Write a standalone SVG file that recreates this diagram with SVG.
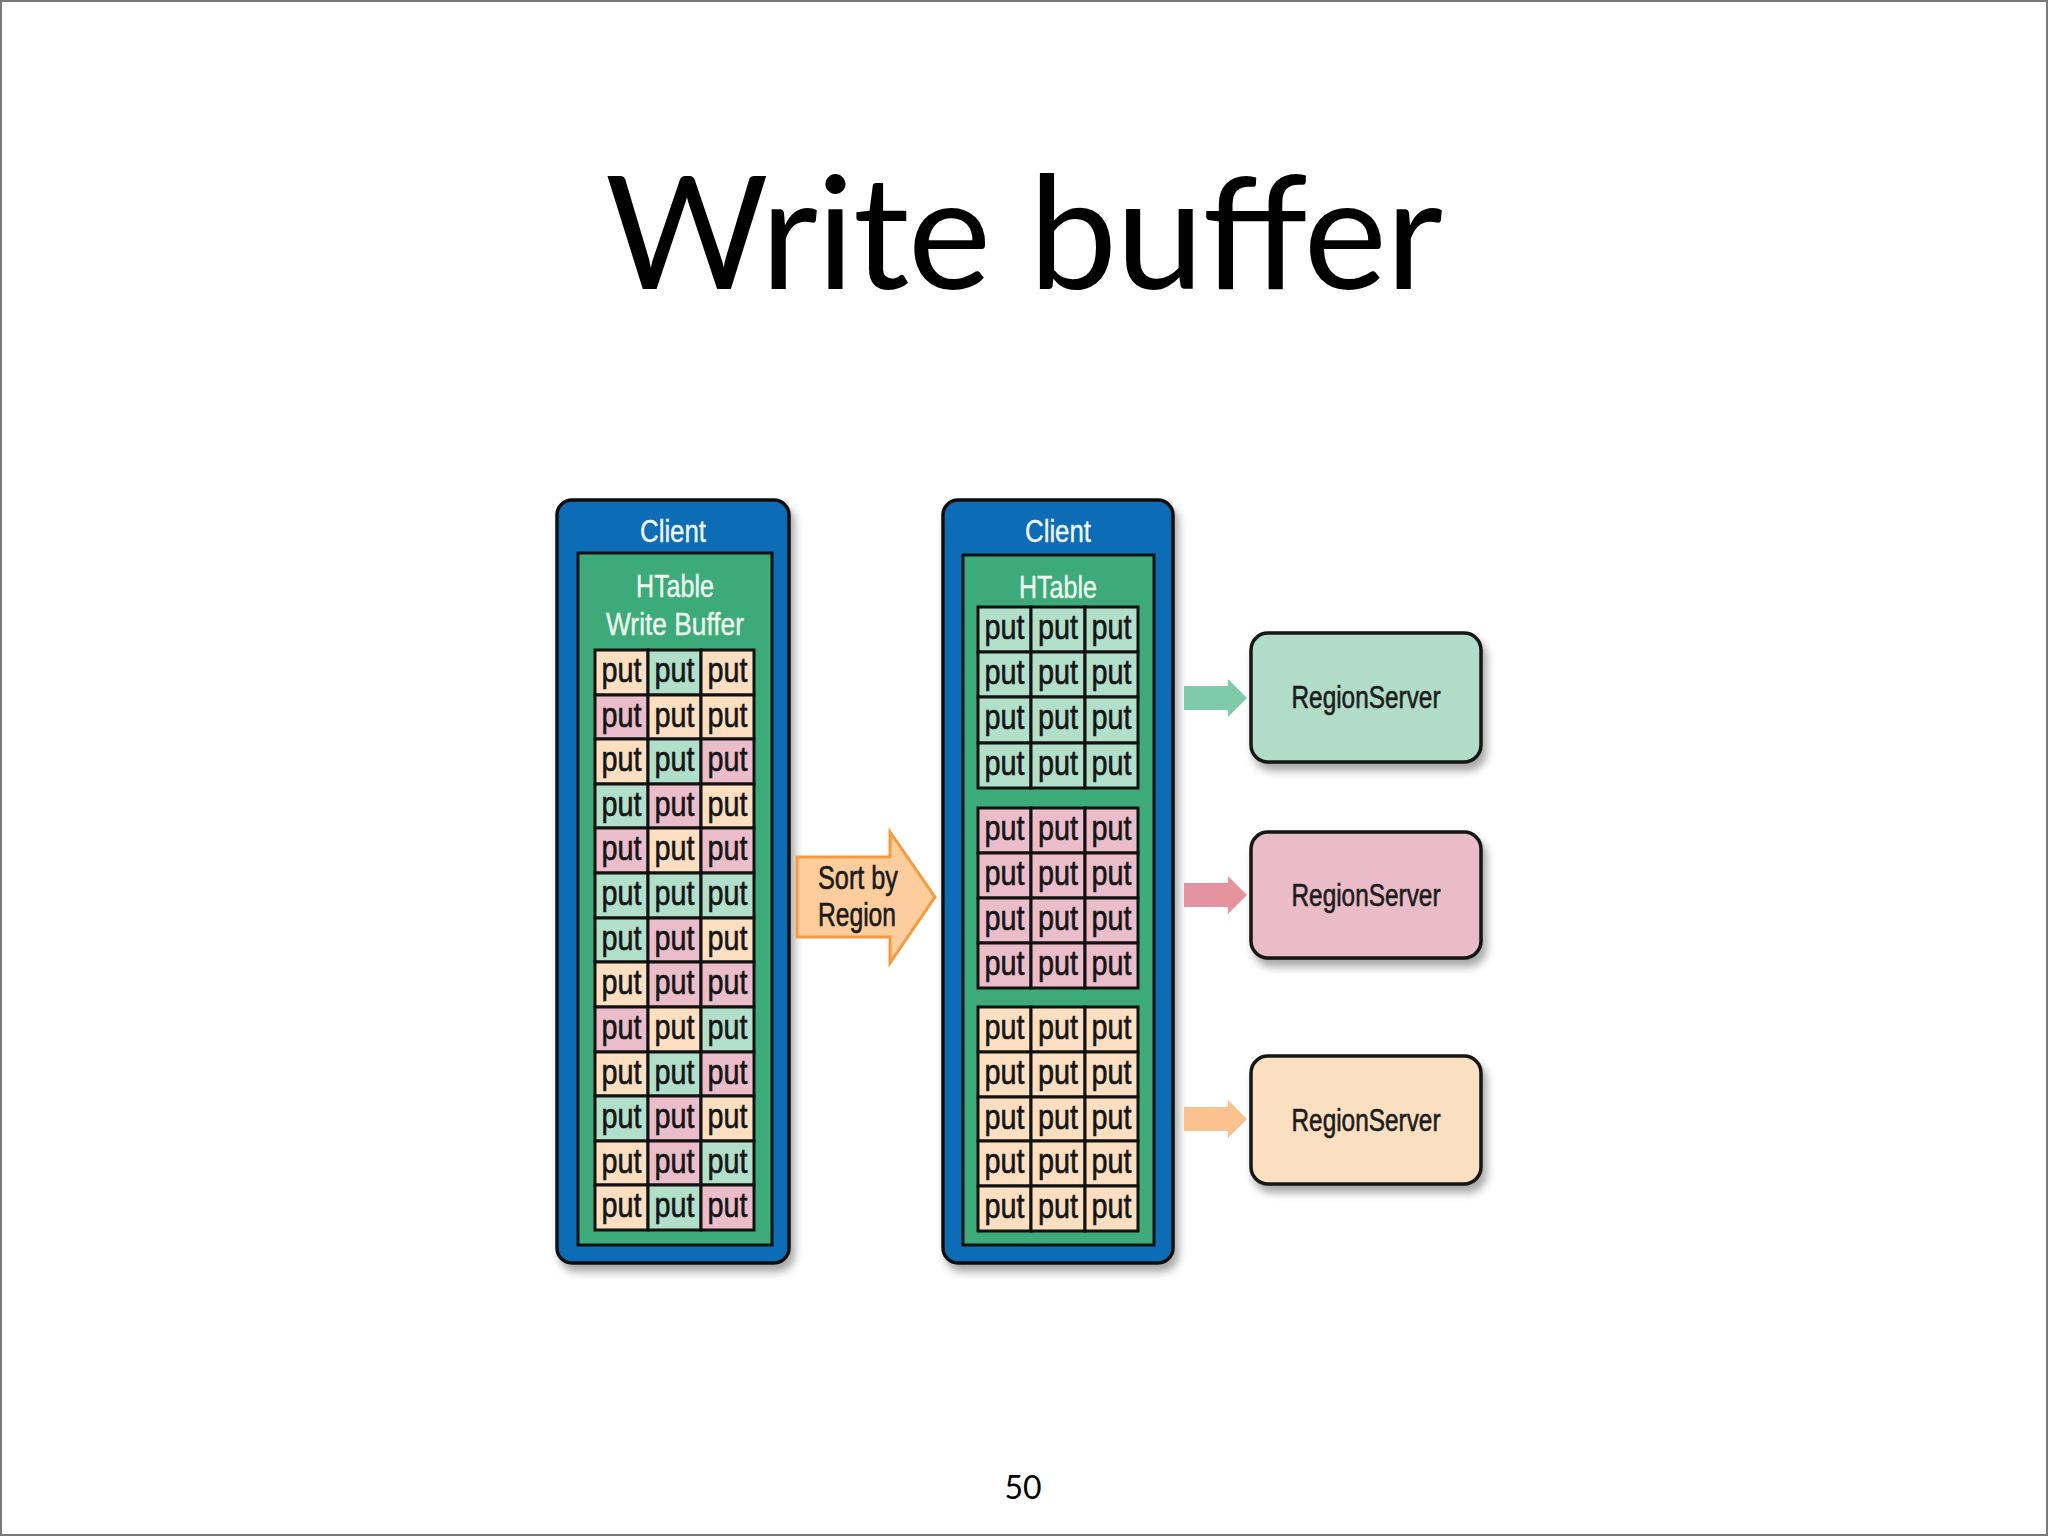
<svg xmlns="http://www.w3.org/2000/svg" width="2048" height="1536" viewBox="0 0 2048 1536">
<defs>
<filter id="sh" x="-10%" y="-10%" width="130%" height="130%"><feDropShadow dx="4" dy="7" stdDeviation="4" flood-color="#000" flood-opacity="0.35"/></filter>
<style>
.t{font-family:"Liberation Sans","DejaVu Sans",sans-serif}
.blue{fill:#0b6cb6;stroke:#111;stroke-width:3.5}
.green{fill:#3dab79;stroke:#111;stroke-width:3}
.c{stroke:#111;stroke-width:3}
.pe{fill:#fcdfc0}.gr{fill:#b2dfca}.pk{fill:#ebbdca}
.put{font-size:35px;fill:#151515;stroke:#151515;stroke-width:0.6;text-anchor:middle}
.wt{font-size:32px;fill:#eef7f0;stroke:#eef7f0;stroke-width:0.4;text-anchor:middle}
.rs{stroke:#151515;stroke-width:3.5}
.rst{font-size:31px;fill:#1c1c1c;stroke:#1c1c1c;stroke-width:0.6;text-anchor:middle}
.dk{fill:#1a1a1a;stroke:#1a1a1a;stroke-width:0.6}
</style>
</defs>
<rect x="0" y="0" width="2048" height="1536" fill="#fff"/>
<rect x="1" y="1" width="2046" height="1534" fill="none" stroke="#7a7a7a" stroke-width="2"/>
<text x="1024" y="289" font-family="Lato,'Open Sans','Liberation Sans',sans-serif" font-size="158" text-anchor="middle" fill="#000" textLength="838">Write buffer</text>
<text x="1023" y="1499" font-family="Lato,'Open Sans','Liberation Sans',sans-serif" font-size="32" text-anchor="middle" fill="#000">50</text>

<g id="client-left">
<rect class="blue" x="557" y="500" width="232" height="763" rx="15" filter="url(#sh)"/>
<text class="t wt" x="673" y="542" textLength="66" lengthAdjust="spacingAndGlyphs">Client</text>
<rect class="green" x="578" y="553" width="194" height="692"/>
<text class="t wt" x="675" y="597" textLength="78" lengthAdjust="spacingAndGlyphs">HTable</text>
<text class="t wt" x="675" y="635" textLength="138" lengthAdjust="spacingAndGlyphs">Write Buffer</text>
<g id="buffer-left">
<rect class="c pe" x="595" y="650" width="53" height="45"/><rect class="c gr" x="648" y="650" width="53" height="45"/><rect class="c pe" x="701" y="650" width="53" height="45"/>
<rect class="c pk" x="595" y="695" width="53" height="44"/><rect class="c pe" x="648" y="695" width="53" height="44"/><rect class="c pe" x="701" y="695" width="53" height="44"/>
<rect class="c pe" x="595" y="739" width="53" height="45"/><rect class="c gr" x="648" y="739" width="53" height="45"/><rect class="c pk" x="701" y="739" width="53" height="45"/>
<rect class="c gr" x="595" y="784" width="53" height="44"/><rect class="c pk" x="648" y="784" width="53" height="44"/><rect class="c pe" x="701" y="784" width="53" height="44"/>
<rect class="c pk" x="595" y="828" width="53" height="45"/><rect class="c pe" x="648" y="828" width="53" height="45"/><rect class="c pk" x="701" y="828" width="53" height="45"/>
<rect class="c gr" x="595" y="873" width="53" height="45"/><rect class="c gr" x="648" y="873" width="53" height="45"/><rect class="c gr" x="701" y="873" width="53" height="45"/>
<rect class="c gr" x="595" y="918" width="53" height="44"/><rect class="c pk" x="648" y="918" width="53" height="44"/><rect class="c pe" x="701" y="918" width="53" height="44"/>
<rect class="c pe" x="595" y="962" width="53" height="45"/><rect class="c pk" x="648" y="962" width="53" height="45"/><rect class="c pk" x="701" y="962" width="53" height="45"/>
<rect class="c pk" x="595" y="1007" width="53" height="45"/><rect class="c pe" x="648" y="1007" width="53" height="45"/><rect class="c gr" x="701" y="1007" width="53" height="45"/>
<rect class="c pe" x="595" y="1052" width="53" height="44"/><rect class="c gr" x="648" y="1052" width="53" height="44"/><rect class="c pk" x="701" y="1052" width="53" height="44"/>
<rect class="c gr" x="595" y="1096" width="53" height="45"/><rect class="c pk" x="648" y="1096" width="53" height="45"/><rect class="c pe" x="701" y="1096" width="53" height="45"/>
<rect class="c pe" x="595" y="1141" width="53" height="44"/><rect class="c pk" x="648" y="1141" width="53" height="44"/><rect class="c gr" x="701" y="1141" width="53" height="44"/>
<rect class="c pe" x="595" y="1185" width="53" height="45"/><rect class="c gr" x="648" y="1185" width="53" height="45"/><rect class="c pk" x="701" y="1185" width="53" height="45"/>
<g class="t put">
<text x="621.5" y="682" textLength="40" lengthAdjust="spacingAndGlyphs">put</text><text x="674.5" y="682" textLength="40" lengthAdjust="spacingAndGlyphs">put</text><text x="727.5" y="682" textLength="40" lengthAdjust="spacingAndGlyphs">put</text>
<text x="621.5" y="727" textLength="40" lengthAdjust="spacingAndGlyphs">put</text><text x="674.5" y="727" textLength="40" lengthAdjust="spacingAndGlyphs">put</text><text x="727.5" y="727" textLength="40" lengthAdjust="spacingAndGlyphs">put</text>
<text x="621.5" y="771" textLength="40" lengthAdjust="spacingAndGlyphs">put</text><text x="674.5" y="771" textLength="40" lengthAdjust="spacingAndGlyphs">put</text><text x="727.5" y="771" textLength="40" lengthAdjust="spacingAndGlyphs">put</text>
<text x="621.5" y="816" textLength="40" lengthAdjust="spacingAndGlyphs">put</text><text x="674.5" y="816" textLength="40" lengthAdjust="spacingAndGlyphs">put</text><text x="727.5" y="816" textLength="40" lengthAdjust="spacingAndGlyphs">put</text>
<text x="621.5" y="860" textLength="40" lengthAdjust="spacingAndGlyphs">put</text><text x="674.5" y="860" textLength="40" lengthAdjust="spacingAndGlyphs">put</text><text x="727.5" y="860" textLength="40" lengthAdjust="spacingAndGlyphs">put</text>
<text x="621.5" y="905" textLength="40" lengthAdjust="spacingAndGlyphs">put</text><text x="674.5" y="905" textLength="40" lengthAdjust="spacingAndGlyphs">put</text><text x="727.5" y="905" textLength="40" lengthAdjust="spacingAndGlyphs">put</text>
<text x="621.5" y="950" textLength="40" lengthAdjust="spacingAndGlyphs">put</text><text x="674.5" y="950" textLength="40" lengthAdjust="spacingAndGlyphs">put</text><text x="727.5" y="950" textLength="40" lengthAdjust="spacingAndGlyphs">put</text>
<text x="621.5" y="994" textLength="40" lengthAdjust="spacingAndGlyphs">put</text><text x="674.5" y="994" textLength="40" lengthAdjust="spacingAndGlyphs">put</text><text x="727.5" y="994" textLength="40" lengthAdjust="spacingAndGlyphs">put</text>
<text x="621.5" y="1039" textLength="40" lengthAdjust="spacingAndGlyphs">put</text><text x="674.5" y="1039" textLength="40" lengthAdjust="spacingAndGlyphs">put</text><text x="727.5" y="1039" textLength="40" lengthAdjust="spacingAndGlyphs">put</text>
<text x="621.5" y="1084" textLength="40" lengthAdjust="spacingAndGlyphs">put</text><text x="674.5" y="1084" textLength="40" lengthAdjust="spacingAndGlyphs">put</text><text x="727.5" y="1084" textLength="40" lengthAdjust="spacingAndGlyphs">put</text>
<text x="621.5" y="1128" textLength="40" lengthAdjust="spacingAndGlyphs">put</text><text x="674.5" y="1128" textLength="40" lengthAdjust="spacingAndGlyphs">put</text><text x="727.5" y="1128" textLength="40" lengthAdjust="spacingAndGlyphs">put</text>
<text x="621.5" y="1173" textLength="40" lengthAdjust="spacingAndGlyphs">put</text><text x="674.5" y="1173" textLength="40" lengthAdjust="spacingAndGlyphs">put</text><text x="727.5" y="1173" textLength="40" lengthAdjust="spacingAndGlyphs">put</text>
<text x="621.5" y="1217" textLength="40" lengthAdjust="spacingAndGlyphs">put</text><text x="674.5" y="1217" textLength="40" lengthAdjust="spacingAndGlyphs">put</text><text x="727.5" y="1217" textLength="40" lengthAdjust="spacingAndGlyphs">put</text>
</g>
</g>
</g>

<g id="client-right">
<rect class="blue" x="943" y="500" width="230" height="763" rx="15" filter="url(#sh)"/>
<text class="t wt" x="1058" y="542" textLength="66" lengthAdjust="spacingAndGlyphs">Client</text>
<rect class="green" x="963" y="555" width="191" height="690"/>
<text class="t wt" x="1058" y="598" textLength="78" lengthAdjust="spacingAndGlyphs">HTable</text>
<g id="region-group-1">
<rect class="c gr" x="978" y="607" width="53" height="45"/><rect class="c gr" x="1031" y="607" width="54" height="45"/><rect class="c gr" x="1085" y="607" width="53" height="45"/>
<rect class="c gr" x="978" y="652" width="53" height="45"/><rect class="c gr" x="1031" y="652" width="54" height="45"/><rect class="c gr" x="1085" y="652" width="53" height="45"/>
<rect class="c gr" x="978" y="697" width="53" height="46"/><rect class="c gr" x="1031" y="697" width="54" height="46"/><rect class="c gr" x="1085" y="697" width="53" height="46"/>
<rect class="c gr" x="978" y="743" width="53" height="45"/><rect class="c gr" x="1031" y="743" width="54" height="45"/><rect class="c gr" x="1085" y="743" width="53" height="45"/>
</g>
<g id="region-group-2">
<rect class="c pk" x="978" y="808" width="53" height="45"/><rect class="c pk" x="1031" y="808" width="54" height="45"/><rect class="c pk" x="1085" y="808" width="53" height="45"/>
<rect class="c pk" x="978" y="853" width="53" height="45"/><rect class="c pk" x="1031" y="853" width="54" height="45"/><rect class="c pk" x="1085" y="853" width="53" height="45"/>
<rect class="c pk" x="978" y="898" width="53" height="45"/><rect class="c pk" x="1031" y="898" width="54" height="45"/><rect class="c pk" x="1085" y="898" width="53" height="45"/>
<rect class="c pk" x="978" y="943" width="53" height="45"/><rect class="c pk" x="1031" y="943" width="54" height="45"/><rect class="c pk" x="1085" y="943" width="53" height="45"/>
</g>
<g id="region-group-3">
<rect class="c pe" x="978" y="1007" width="53" height="45"/><rect class="c pe" x="1031" y="1007" width="54" height="45"/><rect class="c pe" x="1085" y="1007" width="53" height="45"/>
<rect class="c pe" x="978" y="1052" width="53" height="45"/><rect class="c pe" x="1031" y="1052" width="54" height="45"/><rect class="c pe" x="1085" y="1052" width="53" height="45"/>
<rect class="c pe" x="978" y="1097" width="53" height="44"/><rect class="c pe" x="1031" y="1097" width="54" height="44"/><rect class="c pe" x="1085" y="1097" width="53" height="44"/>
<rect class="c pe" x="978" y="1141" width="53" height="45"/><rect class="c pe" x="1031" y="1141" width="54" height="45"/><rect class="c pe" x="1085" y="1141" width="53" height="45"/>
<rect class="c pe" x="978" y="1186" width="53" height="45"/><rect class="c pe" x="1031" y="1186" width="54" height="45"/><rect class="c pe" x="1085" y="1186" width="53" height="45"/>
</g>
<g class="t put">
<text x="1004.5" y="639" textLength="40" lengthAdjust="spacingAndGlyphs">put</text><text x="1058" y="639" textLength="40" lengthAdjust="spacingAndGlyphs">put</text><text x="1111.5" y="639" textLength="40" lengthAdjust="spacingAndGlyphs">put</text>
<text x="1004.5" y="684" textLength="40" lengthAdjust="spacingAndGlyphs">put</text><text x="1058" y="684" textLength="40" lengthAdjust="spacingAndGlyphs">put</text><text x="1111.5" y="684" textLength="40" lengthAdjust="spacingAndGlyphs">put</text>
<text x="1004.5" y="729" textLength="40" lengthAdjust="spacingAndGlyphs">put</text><text x="1058" y="729" textLength="40" lengthAdjust="spacingAndGlyphs">put</text><text x="1111.5" y="729" textLength="40" lengthAdjust="spacingAndGlyphs">put</text>
<text x="1004.5" y="775" textLength="40" lengthAdjust="spacingAndGlyphs">put</text><text x="1058" y="775" textLength="40" lengthAdjust="spacingAndGlyphs">put</text><text x="1111.5" y="775" textLength="40" lengthAdjust="spacingAndGlyphs">put</text>
<text x="1004.5" y="840" textLength="40" lengthAdjust="spacingAndGlyphs">put</text><text x="1058" y="840" textLength="40" lengthAdjust="spacingAndGlyphs">put</text><text x="1111.5" y="840" textLength="40" lengthAdjust="spacingAndGlyphs">put</text>
<text x="1004.5" y="885" textLength="40" lengthAdjust="spacingAndGlyphs">put</text><text x="1058" y="885" textLength="40" lengthAdjust="spacingAndGlyphs">put</text><text x="1111.5" y="885" textLength="40" lengthAdjust="spacingAndGlyphs">put</text>
<text x="1004.5" y="930" textLength="40" lengthAdjust="spacingAndGlyphs">put</text><text x="1058" y="930" textLength="40" lengthAdjust="spacingAndGlyphs">put</text><text x="1111.5" y="930" textLength="40" lengthAdjust="spacingAndGlyphs">put</text>
<text x="1004.5" y="975" textLength="40" lengthAdjust="spacingAndGlyphs">put</text><text x="1058" y="975" textLength="40" lengthAdjust="spacingAndGlyphs">put</text><text x="1111.5" y="975" textLength="40" lengthAdjust="spacingAndGlyphs">put</text>
<text x="1004.5" y="1039" textLength="40" lengthAdjust="spacingAndGlyphs">put</text><text x="1058" y="1039" textLength="40" lengthAdjust="spacingAndGlyphs">put</text><text x="1111.5" y="1039" textLength="40" lengthAdjust="spacingAndGlyphs">put</text>
<text x="1004.5" y="1084" textLength="40" lengthAdjust="spacingAndGlyphs">put</text><text x="1058" y="1084" textLength="40" lengthAdjust="spacingAndGlyphs">put</text><text x="1111.5" y="1084" textLength="40" lengthAdjust="spacingAndGlyphs">put</text>
<text x="1004.5" y="1129" textLength="40" lengthAdjust="spacingAndGlyphs">put</text><text x="1058" y="1129" textLength="40" lengthAdjust="spacingAndGlyphs">put</text><text x="1111.5" y="1129" textLength="40" lengthAdjust="spacingAndGlyphs">put</text>
<text x="1004.5" y="1173" textLength="40" lengthAdjust="spacingAndGlyphs">put</text><text x="1058" y="1173" textLength="40" lengthAdjust="spacingAndGlyphs">put</text><text x="1111.5" y="1173" textLength="40" lengthAdjust="spacingAndGlyphs">put</text>
<text x="1004.5" y="1218" textLength="40" lengthAdjust="spacingAndGlyphs">put</text><text x="1058" y="1218" textLength="40" lengthAdjust="spacingAndGlyphs">put</text><text x="1111.5" y="1218" textLength="40" lengthAdjust="spacingAndGlyphs">put</text>
</g>
</g>

<g id="regionserver-1">
<rect class="rs" x="1251" y="633" width="230" height="129" rx="17" fill="#b1dcc8" filter="url(#sh)"/>
<text class="t rst" x="1366" y="708" textLength="149" lengthAdjust="spacingAndGlyphs">RegionServer</text>
</g>
<g id="regionserver-2">
<rect class="rs" x="1251" y="832" width="230" height="126" rx="17" fill="#e9bcc7" filter="url(#sh)"/>
<text class="t rst" x="1366" y="906" textLength="149" lengthAdjust="spacingAndGlyphs">RegionServer</text>
</g>
<g id="regionserver-3">
<rect class="rs" x="1251" y="1056" width="230" height="128" rx="17" fill="#fbdfc1" filter="url(#sh)"/>
<text class="t rst" x="1366" y="1131" textLength="149" lengthAdjust="spacingAndGlyphs">RegionServer</text>
</g>

<g id="connectors">
<g id="sort-arrow">
<polygon points="797,857 890,857 890,832 935,897 890,963 890,937 797,937" fill="#fdcd9d" stroke="#f59a3e" stroke-width="3" stroke-linejoin="miter"/>
<text class="t dk" x="818" y="889" font-size="33" textLength="80" lengthAdjust="spacingAndGlyphs">Sort by</text>
<text class="t dk" x="818" y="926" font-size="33" textLength="78" lengthAdjust="spacingAndGlyphs">Region</text>
</g>
<polygon points="1184,686 1228,686 1228,679 1247,698 1228,717 1228,710 1184,710" fill="#7fcaa8"/>
<polygon points="1184,883 1228,883 1228,876 1247,895 1228,914 1228,907 1184,907" fill="#e5949f"/>
<polygon points="1184,1107 1228,1107 1228,1100 1247,1119 1228,1138 1228,1131 1184,1131" fill="#f9c18e"/>
</g>
</svg>
